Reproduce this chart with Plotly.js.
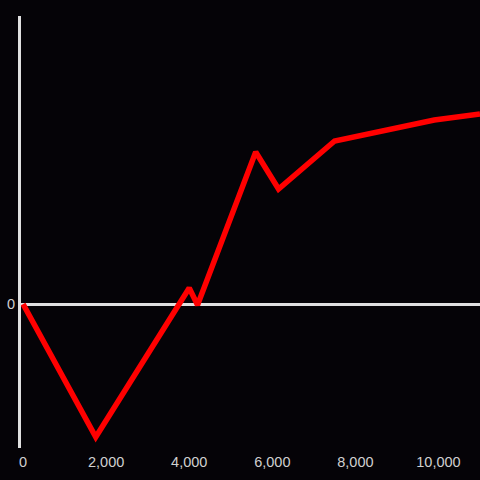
<!DOCTYPE html>
<html>
<head>
<meta charset="utf-8">
<script src="https://cdn.plot.ly/plotly-3.0.1.min.js"></script>
<style>html,body{margin:0;padding:0;background:#050307;}#chart{width:480px;height:480px;}</style>
</head>
<body>
<div id="chart"></div>
<script>
const xValues = [0, 1750, 4000, 4200, 5600, 6150, 7500, 9900, 11000];
const yValues = [0, -133, 16, -1, 152, 115, 163, 184, 190];
const xTickVals = [0, 2000, 4000, 6000, 8000, 10000];
const xTickText = ["0", "2,000", "4,000", "6,000", "8,000", "10,000"];

Plotly.newPlot('chart', [{
  x: xValues, y: yValues, type: 'scatter', mode: 'lines',
  line: {color: '#ff0000', width: 5.5}, hoverinfo: 'none'
}], {
  width: 480, height: 480,
  margin: {l: 21, r: 0, t: 16, b: 32},
  paper_bgcolor: '#050307', plot_bgcolor: '#050307',
  showlegend: false,
  font: {family: 'Liberation Sans, Arial, sans-serif', size: 14.5, color: '#d0d0d0'},
  xaxis: {range: [-50, 11000], showgrid: false, zeroline: false, showline: false,
    tickvals: xTickVals, ticktext: xTickText, ticks: '', ticklabelstandoff: 3},
  yaxis: {range: [-144, 288], showgrid: false, zeroline: true, zerolinecolor: '#e0e0e0', zerolinewidth: 3,
    showline: true, linecolor: '#e0e0e0', linewidth: 3, tickvals: [0], ticktext: ['0'], ticks: ''}
}, {staticPlot: true});
</script>
</body>
</html>
